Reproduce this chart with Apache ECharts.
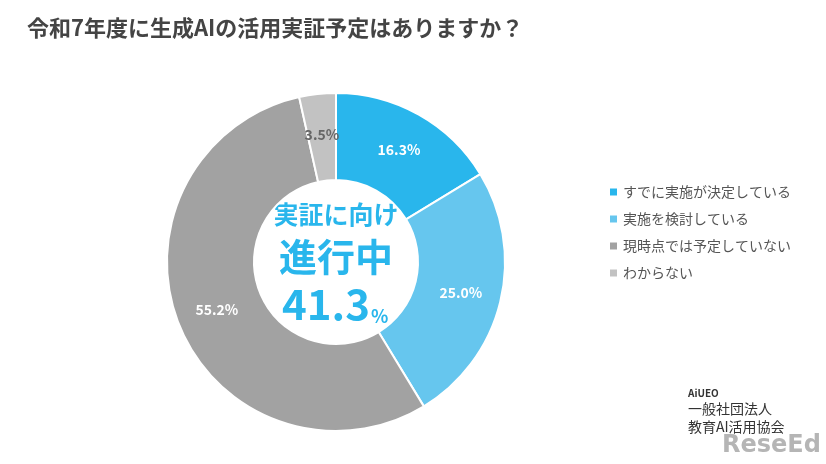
<!DOCTYPE html>
<html>
<head>
<meta charset="UTF-8">
<script src="https://cdn.jsdelivr.net/npm/echarts@6/dist/echarts.min.js"></script>
<style>body{margin:0;background:#fff}#c{width:826px;height:464px}</style>
</head>
<body>
<div id="c"></div>
<script>
var categories = ["すでに実施が決定している", "実施を検討している", "現時点では予定していない", "わからない"];
var values = [16.3, 25.0, 55.2, 3.5];
var colors = ["#29b6ec", "#66c6ee", "#a2a2a2", "#c2c2c2"];
var labelColors = ["#fff", "#fff", "#fff", "#666"];

var chart = echarts.init(document.getElementById("c"));
var font = "'Noto Sans CJK JP', sans-serif";
chart.setOption({
	textStyle: {fontFamily: font},
	title: {
		text: "令和7年度に生成AIの活用実証予定はありますか？",
		left: 22, top: 12,
		textStyle: {fontSize: 22, fontWeight: "bold", color: "#444", fontFamily: font}
	},
	legend: {
		orient: "vertical", left: 603, top: 180,
		itemWidth: 9, itemHeight: 9, itemGap: 13, icon: "rect",
		textStyle: {fontSize: 14, color: "#555"},
		data: categories
	},
	series: [{
		type: "pie",
		center: [336, 262],
		radius: [82, 169],
		startAngle: 90,
		clockwise: true,
		avoidLabelOverlap: false,
		itemStyle: {borderColor: "#fff", borderWidth: 2},
		label: {
			position: "inside",
			formatter: function (p) { return p.value.toFixed(1) + "%"; },
			fontSize: 14, fontWeight: "bold"
		},
		labelLine: {show: false},
		emphasis: {disabled: true},
		data: categories.map(function (n, i) {
			return {name: n, value: values[i], itemStyle: {color: colors[i]}, label: {color: labelColors[i]}};
		})
	}],
	graphic: [
		{type: "text", x: 336, y: 202, style: {text: "実証に向け", font: "bold 25px " + font, fill: "#29b6ec", align: "center"}},
		{type: "text", x: 336, y: 238, style: {text: "進行中", font: "bold 38px " + font, fill: "#29b6ec", align: "center"}},
		{type: "text", x: 326, y: 283, style: {text: "41.3", font: "bold 42px " + font, fill: "#29b6ec", align: "center"}},
		{type: "text", x: 371, y: 307, style: {text: "%", font: "bold 18px " + font, fill: "#29b6ec"}},
		{type: "text", left: 688, top: 388, style: {text: "AiUEO", font: "bold 10px " + font, fill: "#333"}},
		{type: "text", left: 688, top: 400, style: {text: "一般社団法人\n教育AI活用協会", font: "14px " + font, fill: "#333", lineHeight: 18}},
		{type: "text", left: 722, top: 434, style: {text: "ReseEd", font: "bold 24px 'DejaVu Sans'", fill: "rgba(150,150,150,0.7)"}}
	]
});
</script>
</body>
</html>
